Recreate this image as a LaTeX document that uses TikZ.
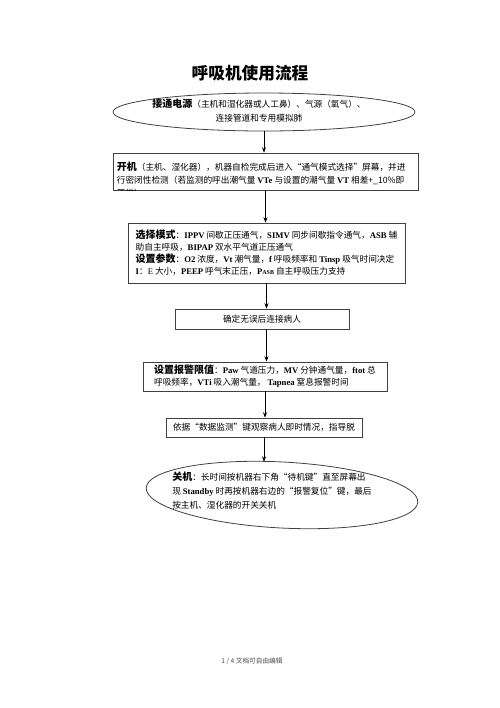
\documentclass[tikz,border=0pt]{standalone}
\usepackage{fontspec}
\setmainfont{Noto Sans CJK SC}
\newfontfamily\latin{Liberation Serif}
\usetikzlibrary{arrows.meta,shapes.geometric,calc}
\newcommand\en[1]{{\latin\bfseries #1}}
\newcommand\hd[1]{{\fontsize{7.5}{9}\selectfont\bfseries #1}}
\tikzset{
	flowbox/.style={draw=black!75, line width=0.6pt, align=left, inner sep=0pt, font=\fontsize{6.5}{9}\selectfont},
	flowoval/.style={ellipse, draw=black!75, line width=0.6pt, inner sep=0pt},
	flowtext/.style={align=left, inner sep=0pt, font=\fontsize{6.5}{10.5}\selectfont},
	flowarrow/.style={-{Stealth[length=4pt,width=3pt]}, line width=0.5pt}
}
\begin{document}
\begin{tikzpicture}[x=0.75pt,y=0.75pt,yscale=-1,xscale=1]
	\useasboundingbox (0,0) rectangle (500,708);
	
	% Title
	\node[font=\fontsize{12.5}{15}\selectfont\bfseries] (title) at (250,73) {呼吸机使用流程};
	% Power on
	\node[flowoval, minimum width=226.5pt, minimum height=28.5pt] (power) at (264,112) {};
	\node[flowtext, align=center] (powertext) at (259,111) {\hd{接通电源}（主机和湿化器或人工鼻）、气源（氧气）、\\连接管道和专用模拟肺};
	% Start up
	\node[flowbox, minimum width=228.75pt, minimum height=27.75pt] (boot) at (265.5,171.5) {};
	\begin{scope}
		\clip (boot.south west) rectangle (boot.north east);
		\node[flowtext, font=\fontsize{6.5}{9.6}\selectfont, anchor=north west] (boottext) at ($(boot.north west)+(4,9)$) {\hd{开机}（主机、湿化器），机器自检完成后进入“通气模式选择”屏幕，并进\\行密闭性检测（若监测的呼出潮气量 \en{VTe} 与设置的潮气量 \en{VT} 相差+\_10\%即\\正常）};
	\end{scope}
	% Mode and parameters
	\node[flowbox, minimum width=207.75pt, minimum height=45pt] (mode) at (266.5,253) {\hd{选择模式}：\en{IPPV} 间歇正压通气，\en{SIMV} 同步间歇指令通气，\en{ASB} 辅\\助自主呼吸，\en{BIPAP} 双水平气道正压通气\\\hd{设置参数}：\en{O2} 浓度，\en{Vt} 潮气量，\en{f} 呼吸频率和 \en{Tinsp} 吸气时间决定\\\en{I}：{\latin E} 大小，\en{PEEP} 呼气末正压，\en{P{\fontsize{4.5}{5}\selectfont ASB}} 自主呼吸压力支持};
	% Connect patient
	\node[flowbox, align=center, minimum width=130.5pt, minimum height=15pt] (confirm) at (262,319) {确定无误后连接病人};
	% Alarm limits
	\node[flowbox, minimum width=183pt, minimum height=21.75pt] (alarm) at (265,376.5) {\hd{设置报警限值}：\en{Paw} 气道压力，\en{MV} 分钟通气量，\en{ftot} 总\\呼吸频率，\en{VTi} 吸入潮气量， \en{Tapnea} 窒息报警时间};
	% Monitoring
	\node[flowbox, minimum width=147pt, minimum height=14.25pt] (watch) at (264,427.5) {依据“数据监测”键观察病人即时情况，指导脱};
	% Shut down
	\node[flowoval, rotate=-3, minimum width=204pt, minimum height=49.5pt] (quit) at (282,495) {};
	\node[flowtext, anchor=west] (quittext) at (172,491) {\hd{关机}：长时间按机器右下角“待机键”直至屏幕出\\现 \en{Standby} 时再按机器右边的“报警复位”键，最后\\按主机、湿化器的开关关机};
	% Footer
	\node[font=\fontsize{5}{6}\selectfont, text=black!70] (page) at (252,661) {1 / 4 文档可自由编辑};
	
	% Connections
	\draw[flowarrow] (power.south) -- (power.south |- boot.north);
	\draw[flowarrow] (boot.south) -- (boot.south |- mode.north);
	\draw[flowarrow] (mode.south) -- (mode.south |- confirm.north);
	\draw[flowarrow] (confirm.south -| mode.south) -- (mode.south |- alarm.north);
	\draw[flowarrow] (alarm.south) -- (alarm.south |- watch.north);
	\draw[flowarrow] (watch.south) -- (watch.south |- quit.north);
	
\end{tikzpicture}
\end{document}
